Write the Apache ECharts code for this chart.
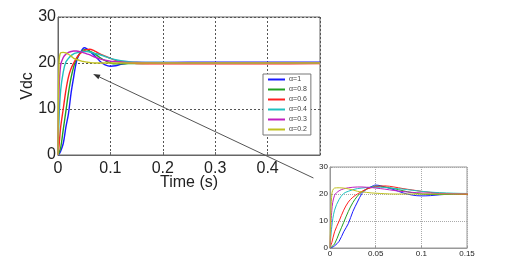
<!DOCTYPE html>
<html>
<head>
<meta charset="utf-8">
<script src="https://cdn.jsdelivr.net/npm/echarts@6/dist/echarts.min.js"></script>
<style>html,body{margin:0;padding:0;background:#fff;}#c{width:520px;height:272px;}</style>
</head>
<body>
<div id="c"></div>
<script>
// ---- data ----
const times = [0, 0.002, 0.005, 0.01, 0.015, 0.02, 0.025, 0.03, 0.035, 0.04, 0.045, 0.05, 0.055, 0.06, 0.07, 0.08, 0.09, 0.1, 0.11, 0.12, 0.135, 0.15, 0.2, 0.3, 0.4, 0.5];
const alpha10 = [0, 0.2, 0.8, 2.5, 6, 9, 13.5, 17, 20.2, 21.8, 22.7, 23.3, 23.1, 22.6, 21.6, 20.4, 19.6, 19.3, 19.4, 19.7, 20, 20.1, 20.1, 20.2, 20.2, 20.2];
const alpha08 = [0, 0.5, 1.5, 5.5, 9.5, 13.5, 16.8, 19.2, 20.8, 21.8, 22.5, 22.9, 22.9, 22.6, 22, 21.2, 20.5, 20, 19.8, 19.8, 19.9, 19.9, 20, 20, 20, 20];
const alpha06 = [0, 2, 6, 10, 14, 17, 18.8, 20, 21, 21.8, 22.3, 22.7, 22.9, 23, 22.6, 22, 21.5, 21, 20.6, 20.3, 20.1, 19.9, 19.8, 19.8, 19.8, 19.9];
const alpha04 = [0, 8, 14, 18, 20.2, 21, 21.6, 22, 22.2, 22.4, 22.5, 22.5, 22.5, 22.4, 22.1, 21.8, 21.4, 21, 20.7, 20.5, 20.3, 20.2, 20.1, 20, 20, 20];
const alpha03 = [0, 14, 19.5, 21.2, 21.9, 22.3, 22.5, 22.6, 22.6, 22.5, 22.4, 22.2, 22, 21.8, 21.3, 20.9, 20.6, 20.4, 20.3, 20.2, 20.1, 20.1, 20, 20, 20, 20];
const alpha02 = [0, 20, 22.2, 22.3, 22.2, 21.9, 21.5, 21.0, 20.8, 20.6, 20.4, 20.3, 20.2, 20.1, 20, 20, 20, 20, 20, 20, 20, 20, 20, 20, 20, 20];
const seriesNames = ['α=1', 'α=0.8', 'α=0.6', 'α=0.4', 'α=0.3', 'α=0.2'];
const seriesValues = [alpha10, alpha08, alpha06, alpha04, alpha03, alpha02];
const mainYTicks = [0, 10, 20, 30];
const mainXTicks = [0, 0.1, 0.2, 0.3, 0.4];
const insetXTicks = [0, 0.05, 0.1, 0.15];
const arrowFrom = [0.4875, -5];   // data coords (main axes) of arrow tail
const arrowTo = [0.067, 17.6];    // data coords (main axes) of arrow head

// ---- styles ----
const colors = ['#1a1aff', '#22a022', '#ff2020', '#20c0c0', '#c020c0', '#c0c020'];
const font = 'Arial, "Liberation Sans", sans-serif';

const chart = echarts.init(document.getElementById('c'), null, {renderer: 'canvas'});

function pairs(vals) { return times.map((t, i) => [t, vals[i]]); }

const series = [];
seriesValues.forEach((vals, i) => {
  series.push({
    name: seriesNames[i], type: 'line', xAxisIndex: 0, yAxisIndex: 0,
    data: pairs(vals), symbol: 'none', smooth: 0.35, clip: true,
    lineStyle: {color: colors[i], width: 1.4}, itemStyle: {color: colors[i]}
  });
  series.push({
    name: seriesNames[i], type: 'line', xAxisIndex: 1, yAxisIndex: 1,
    data: pairs(vals), symbol: 'none', smooth: 0.35, clip: true,
    lineStyle: {color: colors[i], width: 1}, itemStyle: {color: colors[i]}
  });
});

function fmt(v) { return String(Math.round(v * 1000) / 1000); }

chart.setOption({
  animation: false,
  backgroundColor: '#fff',
  grid: [
    {left: 58, top: 17, width: 262, height: 138, show: true, backgroundColor: '#fff', borderColor: '#666', borderWidth: 1, containLabel: false},
    {left: 330, top: 167, width: 137, height: 81, show: true, backgroundColor: '#fff', borderColor: '#999', borderWidth: 1, containLabel: false}
  ],
  xAxis: [
    {gridIndex: 0, type: 'value', min: 0, max: 0.5, interval: 0.1,
     name: 'Time (s)', nameLocation: 'middle', nameGap: 20, nameMoveOverlap: false,
     nameTextStyle: {fontFamily: font, fontSize: 16, color: '#222', verticalAlign: 'top'},
     axisLine: {show: true, onZero: false, lineStyle: {color: '#666'}},
     axisTick: {show: true, inside: true, length: 3, lineStyle: {color: '#666'}},
     axisLabel: {fontFamily: font, fontSize: 16, color: '#222', margin: 6, showMaxLabel: false,
       formatter: v => mainXTicks.some(t => Math.abs(t - v) < 1e-9) ? fmt(v) : ''},
     splitLine: {show: true, lineStyle: {color: '#555', type: [2, 2], width: 1}}},
    {gridIndex: 1, type: 'value', min: 0, max: 0.15, interval: 0.05,
     axisLine: {show: true, onZero: false, lineStyle: {color: '#999'}},
     axisTick: {show: true, inside: true, length: 2, lineStyle: {color: '#999'}},
     axisLabel: {fontFamily: font, fontSize: 8, color: '#222', margin: 2,
       formatter: v => insetXTicks.some(t => Math.abs(t - v) < 1e-9) ? fmt(v) : ''},
     splitLine: {show: true, lineStyle: {color: '#aaa', type: [1, 1], width: 1}}}
  ],
  yAxis: [
    {gridIndex: 0, type: 'value', min: 0, max: 30, interval: 10,
     name: 'Vdc', nameLocation: 'middle', nameGap: 22, nameMoveOverlap: false,
     nameTextStyle: {fontFamily: font, fontSize: 16, color: '#222'},
     axisLine: {show: true, onZero: false, lineStyle: {color: '#666'}},
     axisTick: {show: true, inside: true, length: 3, lineStyle: {color: '#666'}},
     axisLabel: {fontFamily: font, fontSize: 16, color: '#222', margin: 2,
       formatter: v => mainYTicks.includes(v) ? String(v) : ''},
     splitLine: {show: true, lineStyle: {color: '#555', type: [2, 2], width: 1}}},
    {gridIndex: 1, type: 'value', min: 0, max: 30, interval: 10,
     axisLine: {show: true, onZero: false, lineStyle: {color: '#999'}},
     axisTick: {show: true, inside: true, length: 2, lineStyle: {color: '#999'}},
     axisLabel: {fontFamily: font, fontSize: 8, color: '#222', margin: 2},
     splitLine: {show: true, lineStyle: {color: '#aaa', type: [1, 1], width: 1}}}
  ],
  legend: {
    data: seriesNames, orient: 'vertical', left: 263, top: 74,
    itemWidth: 17, itemHeight: 8, itemGap: 3, padding: [2, 4, 2, 4],
    backgroundColor: '#fff', borderColor: '#777', borderWidth: 1, borderRadius: 0,
    itemStyle: {opacity: 0},
    textStyle: {fontFamily: font, fontSize: 7, color: '#444', padding: [0, 0, 0, -1]},
    selectedMode: false
  },
  series: series
});

// Arrow annotation, positioned via the main axes' scale
const p0 = chart.convertToPixel({gridIndex: 0}, arrowFrom);
const p1 = chart.convertToPixel({gridIndex: 0}, arrowTo);
const ang = Math.atan2(p1[1] - p0[1], p1[0] - p0[0]);
const hl = 7, hw = 2.5;
const bx = p1[0] - hl * Math.cos(ang), by = p1[1] - hl * Math.sin(ang);
const nx = -Math.sin(ang), ny = Math.cos(ang);
chart.setOption({
  graphic: [
    {type: 'line', z: 100, shape: {x1: p0[0], y1: p0[1], x2: bx, y2: by}, style: {stroke: '#555', lineWidth: 1}},
    {type: 'polygon', z: 100, shape: {points: [[p1[0], p1[1]], [bx + nx * hw, by + ny * hw], [bx - nx * hw, by - ny * hw]]}, style: {fill: '#333'}}
  ]
});
</script>
</body>
</html>
